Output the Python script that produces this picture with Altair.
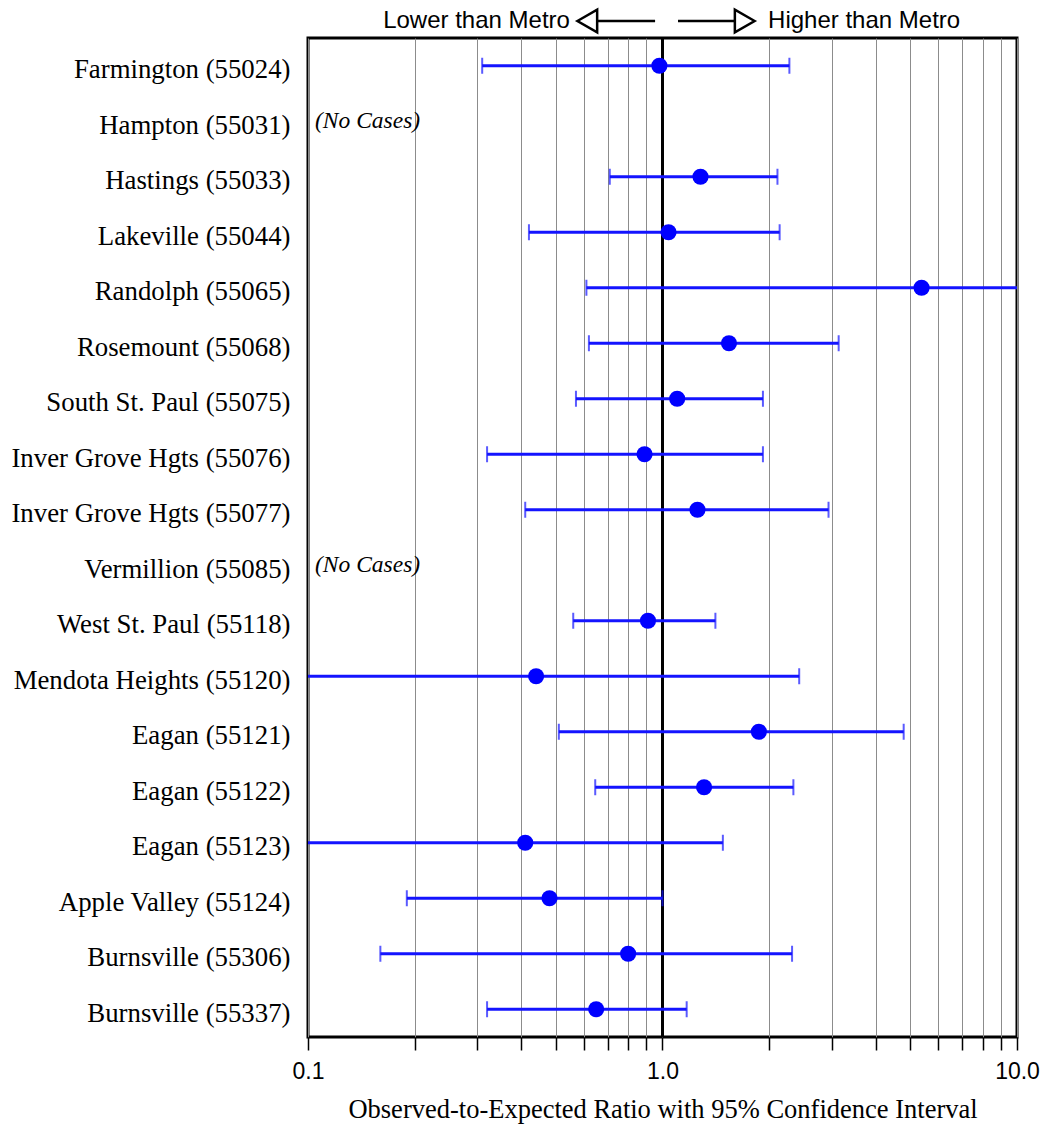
import altair as alt
import pandas as pd

# ---- data -------------------------------------------------------------
labels = [
    "Farmington (55024)", "Hampton (55031)", "Hastings (55033)",
    "Lakeville (55044)", "Randolph (55065)", "Rosemount (55068)",
    "South St. Paul (55075)", "Inver Grove Hgts (55076)",
    "Inver Grove Hgts (55077)", "Vermillion (55085)",
    "West St. Paul  (55118)", "Mendota Heights (55120)", "Eagan (55121)",
    "Eagan (55122)", "Eagan (55123)", "Apple Valley (55124)",
    "Burnsville (55306)", "Burnsville (55337)",
]
ratio = [0.98, None, 1.28, 1.04, 5.38, 1.54, 1.10, 0.89, 1.255, None,
         0.91, 0.44, 1.87, 1.31, 0.41, 0.48, 0.80, 0.65]
lower = [0.31, None, 0.71, 0.42, 0.61, 0.62, 0.57, 0.32, 0.41, None,
         0.56, 0.06, 0.51, 0.646, 0.05, 0.19, 0.16, 0.32]
upper = [2.28, None, 2.11, 2.14, 12.5, 3.14, 1.92, 1.92, 2.94, None,
         1.41, 2.43, 4.79, 2.34, 1.48, 1.00, 2.32, 1.17]
no_case_text = "(No Cases)"

grid_values = [0.1, 0.2, 0.3, 0.4, 0.5, 0.6, 0.7, 0.8, 0.9,
               1, 2, 3, 4, 5, 6, 7, 8, 9, 10]
ref_value = [1.0]

# annotation anchors (data units on the log axis)
ann_left_text = ["Lower than Metro"]
ann_left_text_x = [0.548]
ann_left_tri_x = [0.6135]
ann_left_line = [0.653, 0.953]
ann_right_text = ["Higher than Metro"]
ann_right_text_x = [1.985]
ann_right_tri_x = [1.706]
ann_right_line = [1.106, 1.601]

# ---- frames -----------------------------------------------------------
rows = [dict(label=l, ratio=r, lower=lo, upper=up)
        for l, r, lo, up in zip(labels, ratio, lower, upper) if r is not None]
df = pd.DataFrame(rows)
none_labels = [l for l, r in zip(labels, ratio) if r is None]
df_none = pd.DataFrame({"label": none_labels,
                        "x": [0.1] * len(none_labels),
                        "note": [no_case_text] * len(none_labels)})

xscale = alt.Scale(type="log", domain=[0.1, 10], nice=False)
yscale = alt.Scale(type="point", domain=labels, padding=0.5)

label_expr = ("abs(log(datum.value)/LN10 - round(log(datum.value)/LN10)) < 1e-6"
              " ? format(datum.value, '.1f') : ''")
xaxis = alt.Axis(
    values=grid_values, labelExpr=label_expr, grid=True,
    gridColor="#8c8c8c", gridWidth=1, domain=False,
    ticks=True, tickColor="black", tickWidth=1.5, tickSize=13,
    labelFont="Liberation Sans", labelFontSize=23, labelColor="black",
    labelFlush=False, labelPadding=10, labelOverlap=False,
    title="Observed-to-Expected Ratio with 95% Confidence Interval",
    titleFont="Liberation Serif", titleFontSize=26.5, titleFontWeight="normal",
    titleColor="black", titlePadding=13,
)
yaxis = alt.Axis(
    title=None, ticks=False, domain=False, grid=False,
    labelFont="Liberation Serif", labelFontSize=26.8, labelColor="black",
    labelPadding=18, labelLimit=400, labelOffset=4,
)
Y = alt.Y("label:N", scale=yscale, axis=yaxis)

blue_line = "#1414ff"
blue_dot = "#0000ff"

base = alt.Chart(df)

ref = alt.Chart(pd.DataFrame({"v": ref_value})).mark_rule(
    color="black", strokeWidth=3
).encode(x=alt.X("v:Q", scale=xscale, axis=xaxis))

bars = base.mark_rule(color=blue_line, strokeWidth=3, clip=True).encode(
    x=alt.X("lower:Q", scale=xscale, axis=xaxis), x2="upper:Q", y=Y)
cap_lo = base.mark_tick(color=blue_line, thickness=2, size=16, clip=True).encode(
    x=alt.X("lower:Q", scale=xscale, axis=xaxis), y=Y)
cap_hi = base.mark_tick(color=blue_line, thickness=2, size=16, clip=True).encode(
    x=alt.X("upper:Q", scale=xscale, axis=xaxis), y=Y)
dots = base.mark_circle(color=blue_dot, size=260, opacity=1).encode(
    x=alt.X("ratio:Q", scale=xscale, axis=xaxis), y=Y)

nocase = alt.Chart(df_none).mark_text(
    font="Liberation Serif", fontStyle="italic", fontSize=23.5, align="left",
    baseline="middle", dx=7, color="black"
).encode(x=alt.X("x:Q", scale=xscale, axis=xaxis), y=Y, text="note:N")

# top annotation: arrows
ANN_Y = -17
lt = alt.Chart(pd.DataFrame({"x": ann_left_text_x, "t": ann_left_text})).mark_text(
    font="Liberation Sans", fontSize=24, align="right", baseline="middle", color="black"
).encode(x=alt.X("x:Q", scale=xscale, axis=xaxis), y=alt.value(ANN_Y), text="t:N")
rt = alt.Chart(pd.DataFrame({"x": ann_right_text_x, "t": ann_right_text})).mark_text(
    font="Liberation Sans", fontSize=24, align="left", baseline="middle", color="black"
).encode(x=alt.X("x:Q", scale=xscale, axis=xaxis), y=alt.value(ANN_Y), text="t:N")
ll = alt.Chart(pd.DataFrame({"a": [ann_left_line[0]], "b": [ann_left_line[1]]})).mark_rule(
    color="black", strokeWidth=2.5
).encode(x=alt.X("a:Q", scale=xscale, axis=xaxis), x2="b:Q", y=alt.value(ANN_Y))
rl = alt.Chart(pd.DataFrame({"a": [ann_right_line[0]], "b": [ann_right_line[1]]})).mark_rule(
    color="black", strokeWidth=2.5
).encode(x=alt.X("a:Q", scale=xscale, axis=xaxis), x2="b:Q", y=alt.value(ANN_Y))
ltri = alt.Chart(pd.DataFrame({"x": ann_left_tri_x})).mark_point(
    shape="triangle-left", filled=False, color="black", strokeWidth=2.5, size=520, opacity=1
).encode(x=alt.X("x:Q", scale=xscale, axis=xaxis), y=alt.value(ANN_Y))
rtri = alt.Chart(pd.DataFrame({"x": ann_right_tri_x})).mark_point(
    shape="triangle-right", filled=False, color="black", strokeWidth=2.5, size=520, opacity=1
).encode(x=alt.X("x:Q", scale=xscale, axis=xaxis), y=alt.value(ANN_Y))

chart = alt.layer(
    ref, bars, cap_lo, cap_hi, dots, nocase, ll, rl, ltri, rtri, lt, rt
).properties(
    width=709, height=999,
    autosize=alt.AutoSizeParams(type="none"),
    padding={"left": 308, "top": 38, "right": 27, "bottom": 89},
    background="white",
).configure_view(
    stroke="black", strokeWidth=3
)

chart.save("out.html", embed_options={"renderer": "svg", "actions": False})
